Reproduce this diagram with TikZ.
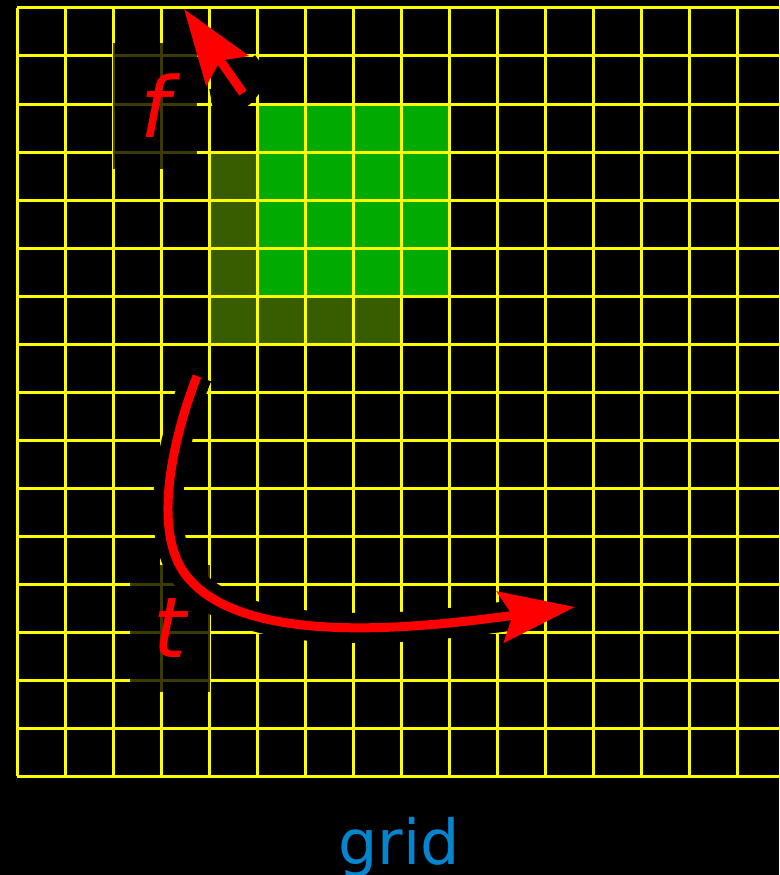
\documentclass[tikz,border=0pt]{standalone}
\usepackage{fontspec}
\newfontfamily\djv{DejaVu Sans}
\usetikzlibrary{arrows.meta}
\definecolor{gridyellow}{HTML}{FFFF00}
\definecolor{cellgreen}{HTML}{00AA00}
\definecolor{cellolive}{HTML}{385C00}
\definecolor{arrowred}{HTML}{FF0000}
\definecolor{capblue}{HTML}{0585CF}
\tikzset{
  gridline/.style={draw=gridyellow, line width=3pt},
  lblbox/.style={fill=black, fill opacity=0.77, text opacity=1, text=arrowred,
     inner sep=0pt, font=\djv\itshape\fontsize{84}{84}\selectfont},
  halo/.style={draw=black, line width=30pt, line cap=butt},
  redarrow/.style={draw=arrowred, line width=9pt, line cap=butt,
     -{Stealth[length=75pt, width=51pt, inset=12pt]}},
}
\begin{document}
\begin{tikzpicture}[x=1pt, y=-1pt]
\fill[black] (0,0) rectangle (779,875);
\useasboundingbox (0,0) rectangle (779,875);
% cells
\fill[cellgreen] (257,104) rectangle (449,296);
\fill[cellolive] (209,152) rectangle (257,344);
\fill[cellolive] (257,296) rectangle (401,344);
% grid
\foreach \i in {0,...,15} {
  \draw[gridline] ({17+48*\i},8) -- ({17+48*\i},776);
}
\foreach \j in {0,...,16} {
  \draw[gridline] (17,{8+48*\j}) -- (779,{8+48*\j});
}
% labels
\node[lblbox, minimum width=84pt, minimum height=126pt] (fl) at (155,106) {f};
\node[lblbox, minimum width=80pt, minimum height=127pt] (tl) at (170,628) {t};
% arrow f
\coordinate (a1s) at (243,93);
\coordinate (a1e) at (184,9);
\coordinate (a1h) at (212,104);
\coordinate (a1k) at (243,64);
\draw[halo] (a1h) .. controls (240,100) and (258,82) .. (a1k);
\draw[halo, shorten >=66pt] (a1s) -- (a1e);
\draw[redarrow] (a1s) -- (a1e);
% arrow t
\coordinate (a2s) at (197,376);
\coordinate (a2m) at (190,580);
\coordinate (a2e) at (575,607);
\draw[halo, shorten >=68pt] (a2s) .. controls (172,440) and (150,538) .. (a2m)
   .. controls (250,647) and (420,628) .. (a2e);
\draw[redarrow] (a2s) .. controls (172,440) and (150,538) .. (a2m)
   .. controls (250,647) and (420,628) .. (a2e);
% caption
\node[anchor=base, text=capblue, inner sep=0pt, font=\djv\fontsize{62}{62}\selectfont] (cap) at (399,864) {grid};
\end{tikzpicture}
\end{document}
